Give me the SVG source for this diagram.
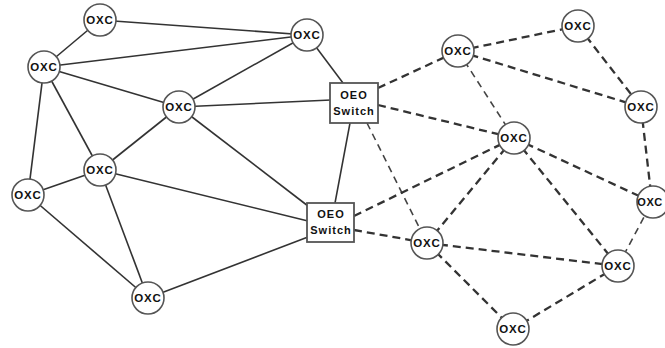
<svg xmlns="http://www.w3.org/2000/svg" width="665" height="348" viewBox="0 0 665 348">
<style>
.s{stroke:#333;stroke-width:1.6;fill:none}
.d{stroke:#333;stroke-width:2.3;fill:none;stroke-dasharray:8 5}
.dt{stroke:#444;stroke-width:1.6;fill:none;stroke-dasharray:7 5}
.n circle{fill:#fff;stroke:#555;stroke-width:1.6}
.n rect{fill:#fff;stroke:#555;stroke-width:1.8}
text{font-family:"Liberation Sans",Arial,sans-serif;font-weight:bold;font-size:11.5px;fill:#111;text-anchor:middle;letter-spacing:0.8px}
.sw{font-size:11px;letter-spacing:1px}
</style>
<g id="connectors">
<line class="s" x1="100" y1="20" x2="44" y2="67"/>
<line class="s" x1="100" y1="20" x2="307" y2="35"/>
<line class="s" x1="44" y1="67" x2="307" y2="35"/>
<line class="s" x1="44" y1="67" x2="179" y2="107"/>
<line class="s" x1="44" y1="67" x2="100" y2="170"/>
<line class="s" x1="44" y1="67" x2="28" y2="195"/>
<line class="s" x1="179" y1="107" x2="100" y2="170"/>
<line class="s" x1="179" y1="107" x2="307" y2="35"/>
<line class="s" x1="179" y1="107" x2="331" y2="100"/>
<line class="s" x1="179" y1="107" x2="308" y2="206"/>
<line class="s" x1="100" y1="170" x2="28" y2="195"/>
<line class="s" x1="100" y1="170" x2="148" y2="298"/>
<line class="s" x1="100" y1="170" x2="308" y2="221"/>
<line class="s" x1="28" y1="195" x2="148" y2="298"/>
<line class="s" x1="148" y1="298" x2="308" y2="237"/>
<line class="s" x1="307" y1="35" x2="343" y2="83"/>
<line class="s" x1="350" y1="123" x2="335" y2="203"/>
<line class="d" x1="378" y1="88" x2="458" y2="51"/>
<line class="d" x1="378" y1="105" x2="514" y2="138"/>
<line class="dt" x1="367" y1="123" x2="427" y2="243"/>
<line class="d" x1="354" y1="216" x2="514" y2="138"/>
<line class="d" x1="354" y1="230" x2="427" y2="243"/>
<line class="d" x1="458" y1="51" x2="578" y2="26"/>
<line class="d" x1="458" y1="51" x2="641" y2="107"/>
<line class="dt" x1="458" y1="51" x2="514" y2="138"/>
<line class="d" x1="578" y1="26" x2="641" y2="107"/>
<line class="d" x1="641" y1="107" x2="652" y2="202"/>
<line class="d" x1="514" y1="138" x2="652" y2="202"/>
<line class="d" x1="514" y1="138" x2="618" y2="266"/>
<line class="d" x1="514" y1="138" x2="427" y2="243"/>
<line class="d" x1="427" y1="243" x2="618" y2="266"/>
<line class="d" x1="427" y1="243" x2="513" y2="329"/>
<line class="d" x1="618" y1="266" x2="513" y2="329"/>
<line class="dt" x1="618" y1="266" x2="652" y2="202"/>
</g>
<g id="oxc1" class="n"><circle cx="100" cy="20" r="16"/><text x="100" y="24">OXC</text></g>
<g id="oxc2" class="n"><circle cx="44" cy="67" r="16"/><text x="44" y="71">OXC</text></g>
<g id="oxc3" class="n"><circle cx="179" cy="107" r="16"/><text x="179" y="111">OXC</text></g>
<g id="oxc4" class="n"><circle cx="100" cy="170" r="16"/><text x="100" y="174">OXC</text></g>
<g id="oxc5" class="n"><circle cx="28" cy="195" r="16"/><text x="28" y="199">OXC</text></g>
<g id="oxc6" class="n"><circle cx="148" cy="298" r="16"/><text x="148" y="302">OXC</text></g>
<g id="oxc7" class="n"><circle cx="307" cy="35" r="16"/><text x="307" y="39">OXC</text></g>
<g id="oeo1" class="n"><rect x="330" y="83" width="48" height="40"/><text class="sw" x="354" y="99">OEO</text><text class="sw" x="354" y="115">Switch</text></g>
<g id="oeo2" class="n"><rect x="307" y="203" width="47" height="39"/><text class="sw" x="331" y="218">OEO</text><text class="sw" x="331" y="234">Switch</text></g>
<g id="oxc8" class="n"><circle cx="458" cy="51" r="16"/><text x="458" y="55">OXC</text></g>
<g id="oxc9" class="n"><circle cx="578" cy="26" r="16"/><text x="578" y="30">OXC</text></g>
<g id="oxc10" class="n"><circle cx="641" cy="107" r="16"/><text x="641" y="111">OXC</text></g>
<g id="oxc11" class="n"><circle cx="514" cy="138" r="16"/><text x="514" y="142">OXC</text></g>
<g id="oxc12" class="n"><circle cx="427" cy="243" r="16"/><text x="427" y="247">OXC</text></g>
<g id="oxc13" class="n"><circle cx="653" cy="202" r="16"/><text x="650" y="206" style="font-size:11px;letter-spacing:0.5px">OXC</text></g>
<g id="oxc14" class="n"><circle cx="618" cy="266" r="16"/><text x="618" y="270">OXC</text></g>
<g id="oxc15" class="n"><circle cx="513" cy="329" r="16"/><text x="513" y="333">OXC</text></g>
</svg>
